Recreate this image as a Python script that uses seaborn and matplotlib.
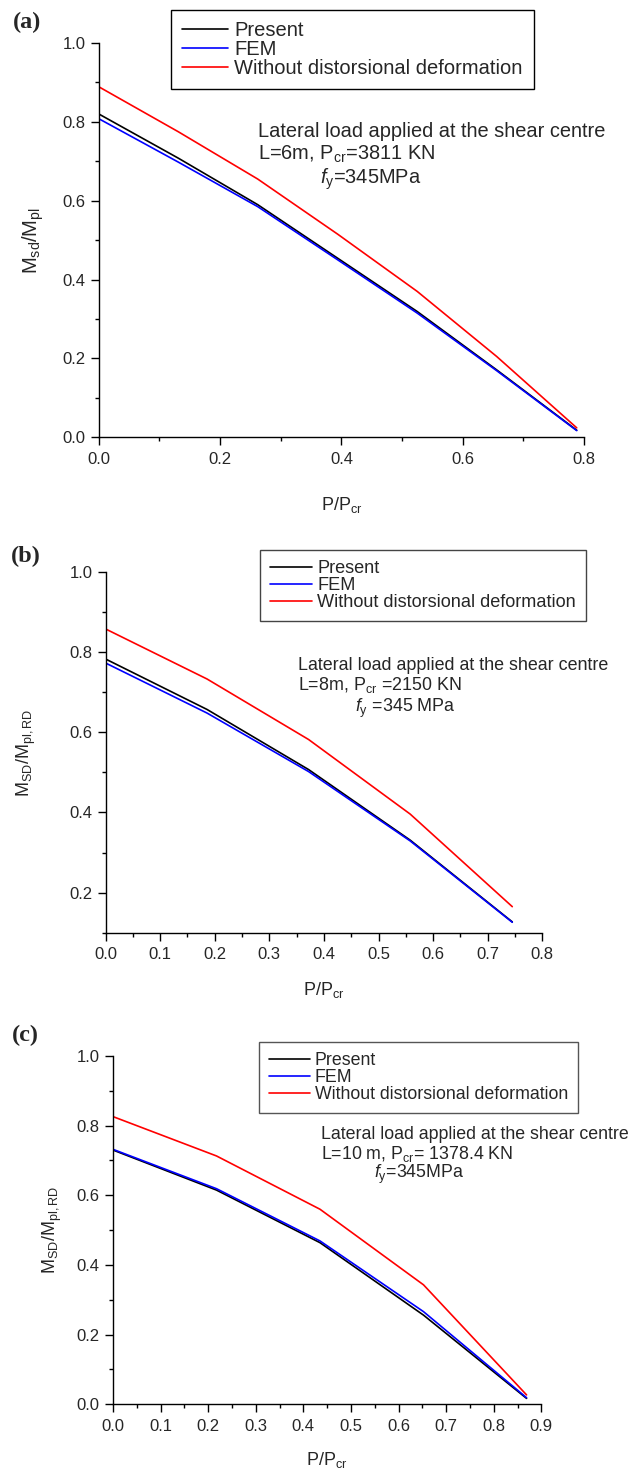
import numpy as np
import pandas as pd
import seaborn as sns
import matplotlib.pyplot as plt
from matplotlib.ticker import MultipleLocator

# panel (a): L=6m
x_a = [0.0, 0.131, 0.262, 0.394, 0.525, 0.656, 0.788]
present_a = [0.820, 0.708, 0.590, 0.454, 0.319, 0.171, 0.018]
fem_a = [0.808, 0.698, 0.585, 0.450, 0.315, 0.169, 0.017]
nodist_a = [0.889, 0.775, 0.655, 0.515, 0.370, 0.205, 0.024]

# panel (b): L=8m
x_b = [0.0, 0.186, 0.372, 0.558, 0.745]
present_b = [0.783, 0.657, 0.507, 0.331, 0.127]
fem_b = [0.773, 0.648, 0.502, 0.329, 0.126]
nodist_b = [0.858, 0.733, 0.582, 0.396, 0.165]

# panel (c): L=10m
x_c = [0.0, 0.2175, 0.435, 0.6525, 0.869]
present_c = [0.730, 0.615, 0.464, 0.256, 0.017]
fem_c = [0.732, 0.619, 0.469, 0.266, 0.019]
nodist_c = [0.826, 0.713, 0.560, 0.343, 0.027]

series_names = ['Present', 'FEM', 'Without distorsional deformation']
series_colors = ['#000000', '#0000ff', '#ff0000']

W, H = 643, 1470

sns.set_style('ticks')
plt.rcParams['font.family'] = ['Liberation Sans', 'DejaVu Sans']
plt.rcParams['mathtext.fontset'] = 'custom'
plt.rcParams['mathtext.rm'] = 'Liberation Sans'
plt.rcParams['mathtext.it'] = 'Liberation Sans:italic'
plt.rcParams['mathtext.default'] = 'regular'

fig = plt.figure(figsize=(W / 100, H / 100), dpi=100)


def px_axes(left, top, right, bottom):
    return fig.add_axes([left / W, 1 - bottom / H, (right - left) / W, (bottom - top) / H])


panels = [
    dict(box=(98.8, 43.0, 584.0, 437.3), x=x_a, ys=[present_a, fem_a, nodist_a],
         xlim=(0, 0.8), ylim=(0, 1.0), xmaj=0.2, xmin=0.1,
         ylabel='M$_{sd}$/M$_{pl}$', ylab_fs=14.5, ylab_x=-0.109, xlab_y=-0.147,
         leg=(171, 10), leg_fs=14.5, leg_edge='#000000',
         letter='(a)', letter_xy=(13, 22),
         notes=['Lateral load applied at the shear centre', 'L=6m, P$_{cr}$=3811 KN',
                '$\\mathit{f}_{y}$=345MPa'],
         note_xy=[(258, 137), (258, 160), (320, 184)], note_fs=14.4),
    dict(box=(105.5, 572.0, 542.3, 932.7), x=x_b, ys=[present_b, fem_b, nodist_b],
         xlim=(0, 0.8), ylim=(0.1, 1.0), xmaj=0.1, xmin=0.05,
         ylabel='M$_{SD}$/M$_{pl, RD}$', ylab_fs=13, ylab_x=-0.154, xlab_y=-0.130,
         leg=(260, 550), leg_fs=13.1, leg_edge='#444444',
         letter='(b)', letter_xy=(11, 556),
         notes=['Lateral load applied at the shear centre', 'L=8m, P$_{cr}$ =2150 KN',
                '$\\mathit{f}_{y}$ =345 MPa'],
         note_xy=[(298, 670), (298, 690), (355, 712)], note_fs=12.9),
    dict(box=(113.0, 1056.0, 541.3, 1404.3), x=x_c, ys=[present_c, fem_c, nodist_c],
         xlim=(0, 0.9), ylim=(0, 1.0), xmaj=0.1, xmin=0.05,
         ylabel='M$_{SD}$/M$_{pl,RD}$', ylab_fs=13, ylab_x=-0.114, xlab_y=-0.132,
         leg=(259, 1042), leg_fs=12.8, leg_edge='#555555',
         letter='(c)', letter_xy=(12, 1035),
         notes=['Lateral load applied at the shear centre', 'L=10 m, P$_{cr}$= 1378.4 KN',
                '$\\mathit{f}_{y}$=345MPa'],
         note_xy=[(321, 1139), (321, 1159), (374, 1178)], note_fs=12.8),
]

for p in panels:
    ax = px_axes(*p['box'])
    for name, color, yv in zip(series_names, series_colors, p['ys']):
        df = pd.DataFrame({'x': p['x'], 'y': yv})
        sns.lineplot(data=df, x='x', y='y', ax=ax, color=color, lw=1.2, label=name, sort=False)
    ax.set_xlim(*p['xlim'])
    ax.set_ylim(*p['ylim'])
    ax.xaxis.set_major_locator(MultipleLocator(p['xmaj']))
    ax.xaxis.set_minor_locator(MultipleLocator(p['xmin']))
    ax.yaxis.set_major_locator(MultipleLocator(0.2))
    ax.yaxis.set_minor_locator(MultipleLocator(0.1))
    ax.set_xticks(np.round(np.arange(p['xlim'][0], p['xlim'][1] + 1e-6, p['xmaj']), 2))
    yt = [v for v in [0.0, 0.2, 0.4, 0.6, 0.8, 1.0] if v >= p['ylim'][0] - 1e-9]
    ax.set_yticks(yt)
    ax.xaxis.set_major_formatter(plt.FormatStrFormatter('%.1f'))
    ax.yaxis.set_major_formatter(plt.FormatStrFormatter('%.1f'))
    sns.despine(ax=ax)
    for s in ['left', 'bottom']:
        ax.spines[s].set_linewidth(1.0)
        ax.spines[s].set_color('black')
    ax.tick_params(which='major', direction='out', length=5.5, width=1.0, labelsize=12,
                   color='black')
    ax.tick_params(axis='x', which='major', pad=5)
    ax.tick_params(axis='y', which='major', pad=4)
    ax.tick_params(which='minor', direction='out', length=3, width=1.0, color='black')
    ax.set_xlabel('P/P$_{cr}$', fontsize=13)
    ax.set_ylabel(p['ylabel'], fontsize=p['ylab_fs'])
    ax.xaxis.set_label_coords(0.5, p['xlab_y'])
    ax.xaxis.label.set_va('top')
    ax.yaxis.set_label_coords(p['ylab_x'], 0.5)

    lx, ly = p['leg']
    leg = ax.legend(loc='upper left', bbox_to_anchor=(lx / W, 1 - ly / H),
                    bbox_transform=fig.transFigure, borderaxespad=0, fontsize=p['leg_fs'],
                    frameon=True, fancybox=False, handlelength=2.3, handletextpad=0.3,
                    labelspacing=0.0, borderpad=0.55)
    leg.get_frame().set_edgecolor(p['leg_edge'])
    leg.get_frame().set_linewidth(1.0)
    leg.get_frame().set_alpha(1)

    fig.text(p['letter_xy'][0] / W, 1 - p['letter_xy'][1] / H, p['letter'],
             family=['Liberation Serif', 'DejaVu Serif'], fontweight='bold', fontsize=17.5,
             ha='left', va='center')
    for (nx, ny), txt in zip(p['note_xy'], p['notes']):
        fig.text(nx / W, 1 - ny / H, txt, fontsize=p['note_fs'], ha='left', va='baseline')

fig.savefig('out.png', dpi=100)
